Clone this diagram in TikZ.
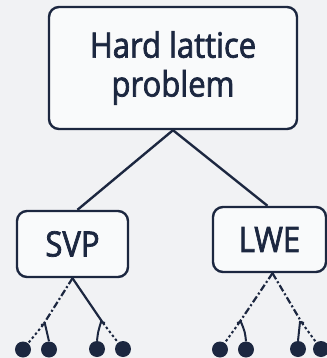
\documentclass[tikz,border=0pt]{standalone}
\usepackage{fontspec}
\setmainfont{Open Sans}[FakeStretch=0.89]
\newcommand{\heavytext}[1]{\special{pdf:literal direct 2 Tr 0.7 w}#1\special{pdf:literal direct 0 Tr}}
\begin{document}
\begin{tikzpicture}[x=1bp,y=-1bp,
  ink/.style={draw=navy,line width=2.4bp},
  box/.style={ink,rounded corners=10bp,fill=white!60!bg,text=navy,align=center,inner sep=0pt},
  dashdot/.style={ink,line width=2.2bp,dash pattern=on 7bp off 2.5bp on 2bp off 2.5bp},
  dotline/.style={ink,line width=2bp,dash pattern=on 2.5bp off 2.5bp},
  leaf/.style={circle,fill=navy,inner sep=0pt,minimum size=16bp},
  label/.style={font=\fontsize{35}{39}\selectfont}]
\definecolor{navy}{HTML}{1C2740}
\definecolor{bg}{HTML}{F1F2F4}
\fill[bg] (0,0) rectangle (327,358);
\useasboundingbox (0,0) rectangle (327,358);
\node[box,label,minimum width=248bp,minimum height=122bp] (top) at (173,68) {\heavytext{Hard lattice}\\\heavytext{problem}};
\node[box,label,minimum width=111bp,minimum height=66bp] (svp) at (72.5,244) {\heavytext{SVP}};
\node[box,label,minimum width=113bp,minimum height=65bp] (lwe) at (269.5,239.5) {\heavytext{LWE}};
\draw[ink] (top.south) -- ([xshift=5bp]svp.north);
\draw[ink] (top.south) -- ([xshift=-2bp]lwe.north);
% SVP subtree
\coordinate (j1) at (43,325);
\coordinate (j2) at (103,323);
\node[leaf] (d1) at (23,349.5) {};
\node[leaf] (d2) at (49,349.5) {};
\node[leaf] (d3) at (97,349) {};
\node[leaf] (d4) at (123,349) {};
\draw[dashdot] (svp.south) -- (j1);
\draw[ink,line width=2.2bp] (svp.south) -- (j2);
\draw[dotline] (j1) -- (d1);
\draw[ink,line width=2bp] ([xshift=-2bp]j1) -- ++(4,-1) .. controls (47,332) .. (d2.north);
\draw[ink,line width=2bp] ([xshift=2bp]j2) -- ++(-4,-1) .. controls (98,332) .. (d3.north);
\draw[dotline] (j2) -- (d4);
% LWE subtree
\coordinate (j3) at (239,323);
\coordinate (j4) at (302,323);
\node[leaf] (d5) at (220,349.5) {};
\node[leaf] (d6) at (246,349.5) {};
\node[leaf] (d7) at (298,349) {};
\node[leaf] (d8) at (321,349) {};
\draw[dashdot] ([xshift=3bp]lwe.south) -- (j3);
\draw[dashdot] ([xshift=3bp]lwe.south) -- (j4);
\draw[dotline] (j3) -- (d5);
\draw[ink,line width=2bp] ([xshift=-2bp]j3) -- ++(4,-1) .. controls (245,332) .. (d6.north);
\draw[ink,line width=2bp] ([xshift=2bp]j4) -- ++(-4,-1) .. controls (299,332) .. (d7.north);
\draw[dotline] (j4) -- (d8);
\end{tikzpicture}
\end{document}
